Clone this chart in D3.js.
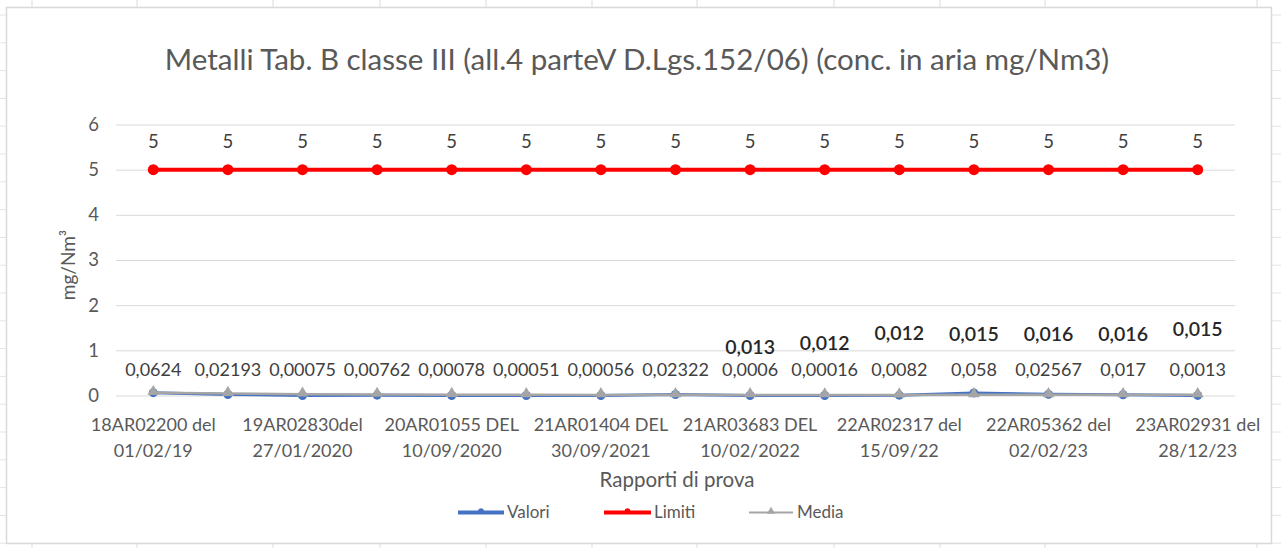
<!DOCTYPE html>
<html>
<head>
<meta charset="utf-8">
<script src="https://cdn.jsdelivr.net/npm/d3@7"></script>
<style>
  html, body { margin: 0; padding: 0; background: #ffffff; }
  svg { display: block; }
  text { font-family: Lato, "Open Sans", "Liberation Sans", sans-serif; }
</style>
</head>
<body>
<svg id="chart" width="1281" height="548"></svg>
<script>
// ---------- DATA ----------
const categories = d3.range(15);
const xTickLabels = [
  ["18AR02200 del", "01/02/19"], null,
  ["19AR02830del", "27/01/2020"], null,
  ["20AR01055 DEL", "10/09/2020"], null,
  ["21AR01404 DEL", "30/09/2021"], null,
  ["21AR03683 DEL", "10/02/2022"], null,
  ["22AR02317 del", "15/09/22"], null,
  ["22AR05362 del", "02/02/23"], null,
  ["23AR02931 del", "28/12/23"]
];
const valori = [0.0624, 0.02193, 0.00075, 0.00762, 0.00078, 0.00051, 0.00056, 0.02322, 0.0006, 0.00016, 0.0082, 0.058, 0.02567, 0.017, 0.0013];
const valoriLabels = ["0,0624", "0,02193", "0,00075", "0,00762", "0,00078", "0,00051", "0,00056", "0,02322", "0,0006", "0,00016", "0,0082", "0,058", "0,02567", "0,017", "0,0013"];
const limiti = [5, 5, 5, 5, 5, 5, 5, 5, 5, 5, 5, 5, 5, 5, 5];
const media = [0.0624, 0.04217, 0.02836, 0.02318, 0.0187, 0.01567, 0.01351, 0.01473, 0.01315, 0.01185, 0.01152, 0.01539, 0.01618, 0.01624, 0.01525];
const mediaLabels = [null, null, null, null, null, null, null, null, "0,013", "0,012", "0,012", "0,015", "0,016", "0,016", "0,015"];
const yTicks = [0, 1, 2, 3, 4, 5, 6];
const seriesNames = ["Valori", "Limiti", "Media"];
const title = "Metalli Tab. B classe III (all.4 parteV D.Lgs.152/06) (conc. in aria mg/Nm3)";
const yTitle = "mg/Nm³";
const xTitle = "Rapporti di prova";

// ---------- LAYOUT ----------
const svg = d3.select("#chart");
const plot = { left: 116, right: 1235, top: 124.5, bottom: 395.5 };
const colors = { Valori: "#4472C4", Limiti: "#FF0000", Media: "#A5A5A5" };
const textCol = "#595959";

// spreadsheet background grid
const bg = svg.append("g");
const colXs = [32, 137, 273, 380, 486, 592, 697, 834, 940, 1045, 1257];
colXs.forEach(x => {
  bg.append("line").attr("x1", x).attr("x2", x).attr("y1", 0).attr("y2", 7).attr("stroke", "#dcdcdc");
  bg.append("line").attr("x1", x).attr("x2", x).attr("y1", 544).attr("y2", 548).attr("stroke", "#dcdcdc");
});
d3.range(15, 548, 27.8).forEach(y => {
  bg.append("line").attr("x1", 0).attr("x2", 6).attr("y1", y).attr("y2", y).attr("stroke", "#e4e4e4");
  bg.append("line").attr("x1", 1272).attr("x2", 1281).attr("y1", y).attr("y2", y).attr("stroke", "#e4e4e4");
});
// chart box
svg.append("rect").attr("x", 6.5).attr("y", 7.5).attr("width", 1265).attr("height", 536)
  .attr("fill", "#ffffff").attr("stroke", "#d9d9d9").attr("stroke-width", 1.5);

// scales
const x = d3.scaleBand().domain(categories).range([plot.left, plot.right]);
const cx = i => x(i) + x.bandwidth() / 2;
const y = d3.scaleLinear().domain([0, 6]).range([plot.bottom, plot.top]);

// title
svg.append("text").attr("x", 637).attr("y", 70).attr("text-anchor", "middle")
  .attr("font-size", 29.5).attr("fill", textCol).text(title);

// gridlines + y axis
const yAxis = d3.axisLeft(y).tickValues(yTicks).tickSize(-(plot.right - plot.left)).tickFormat(d3.format("d"));
const gy = svg.append("g").attr("transform", `translate(${plot.left},0)`).call(yAxis);
gy.select(".domain").remove();
gy.selectAll(".tick line").attr("stroke", "#d9d9d9").attr("stroke-width", 1);
gy.selectAll(".tick text").attr("x", -17).attr("font-size", 18.5).attr("fill", textCol)
  .attr("font-family", "Lato, sans-serif");

// x axis labels
const xAxis = d3.axisBottom(x).tickSize(0).tickFormat(() => "");
const gx = svg.append("g").attr("transform", `translate(0,${plot.bottom})`).call(xAxis);
gx.select(".domain").remove();
gx.selectAll(".tick").each(function(d) {
  const lab = xTickLabels[d];
  if (!lab) return;
  const t = d3.select(this).append("text").attr("text-anchor", "middle")
    .attr("font-size", 18).attr("fill", textCol).attr("font-family", "Lato, sans-serif");
  t.append("tspan").attr("x", 0).attr("y", 35).text(lab[0]);
  t.append("tspan").attr("x", 0).attr("y", 61).text(lab[1]);
});

// axis titles
svg.append("text").attr("transform", `translate(75,265) rotate(-90)`).attr("text-anchor", "middle")
  .attr("font-size", 19).attr("fill", textCol).text(yTitle);
svg.append("text").attr("x", 677).attr("y", 487).attr("text-anchor", "middle")
  .attr("font-size", 20.5).attr("fill", textCol).text(xTitle);

// lines
const line = d3.line().x((d, i) => cx(i)).y(d => y(d));
svg.append("path").datum(valori).attr("d", line).attr("fill", "none")
  .attr("stroke", colors.Valori).attr("stroke-width", 3).attr("stroke-linejoin", "round");
svg.selectAll(".mv").data(valori).enter().append("circle")
  .attr("cx", (d, i) => cx(i)).attr("cy", d => y(d)).attr("r", 4.5).attr("fill", colors.Valori);

svg.append("path").datum(limiti).attr("d", line).attr("fill", "none")
  .attr("stroke", colors.Limiti).attr("stroke-width", 4).attr("stroke-linejoin", "round");
svg.selectAll(".ml").data(limiti).enter().append("circle")
  .attr("cx", (d, i) => cx(i)).attr("cy", d => y(d)).attr("r", 5.5).attr("fill", colors.Limiti);

svg.append("path").datum(media).attr("d", line).attr("fill", "none")
  .attr("stroke", colors.Media).attr("stroke-width", 2.5).attr("stroke-linejoin", "round");
const tri = d3.symbol().type(d3.symbolTriangle).size(60);
svg.selectAll(".mm").data(media).enter().append("path")
  .attr("d", tri).attr("transform", (d, i) => `translate(${cx(i)},${y(d) - 1})`)
  .attr("fill", colors.Media);

// data labels
svg.selectAll(".ll").data(limiti).enter().append("text")
  .attr("x", (d, i) => cx(i)).attr("y", d => y(d) - 22).attr("text-anchor", "middle")
  .attr("font-size", 18.5).attr("fill", "#404040").text(d => String(d).replace(".", ","));

svg.selectAll(".lv").data(valori).enter().append("text")
  .attr("x", (d, i) => cx(i)).attr("y", 376).attr("text-anchor", "middle")
  .attr("font-size", 18).attr("fill", "#404040").text((d, i) => valoriLabels[i]);

const mediaLabelY = [0, 0, 0, 0, 0, 0, 0, 0, 354, 350, 340, 341, 341, 341, 336];
const mediaIdx = categories.filter(i => mediaLabels[i]);
svg.selectAll(".lm").data(mediaIdx).enter().append("text")
  .attr("x", i => cx(i)).attr("y", i => mediaLabelY[i]).attr("text-anchor", "middle")
  .attr("font-size", 19.5).attr("font-weight", 600).attr("fill", "#262626").text(i => mediaLabels[i]);

// legend
const legendItems = [
  { name: seriesNames[0], x1: 458, x2: 504, tx: 507 },
  { name: seriesNames[1], x1: 604, x2: 651, tx: 654 },
  { name: seriesNames[2], x1: 749, x2: 793, tx: 797 }
];
const lg = svg.append("g");
legendItems.forEach(it => {
  const c = colors[it.name];
  const sw = it.name === "Media" ? 2 : 4;
  lg.append("line").attr("x1", it.x1).attr("x2", it.x2).attr("y1", 512.5).attr("y2", 512.5)
    .attr("stroke", c).attr("stroke-width", sw);
  const mx = (it.x1 + it.x2) / 2;
  if (it.name === "Media") {
    lg.append("path").attr("d", d3.symbol().type(d3.symbolTriangle).size(28)).attr("transform", `translate(${mx},511.5)`).attr("fill", c);
  } else {
    lg.append("circle").attr("cx", mx).attr("cy", 511).attr("r", 2.8).attr("fill", c);
  }
  lg.append("text").attr("x", it.tx).attr("y", 518).attr("font-size", 17).attr("fill", textCol).text(it.name);
});
</script>
</body>
</html>
